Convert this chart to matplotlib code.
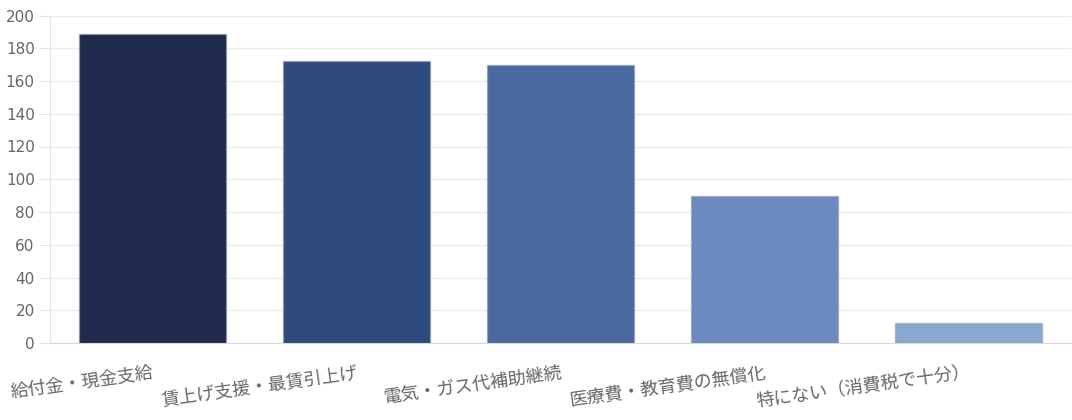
import matplotlib
matplotlib.use("Agg")
import matplotlib.pyplot as plt

plt.rcParams['font.family'] = ['Noto Sans CJK JP', 'DejaVu Sans']

categories = ["給付金・現金支給", "賃上げ支援・最賃引上げ", "電気・ガス代補助継続",
              "医療費・教育費の無償化", "特にない（消費税で十分）"]
values = [189, 172, 170, 90, 12]
colors = ["#1f2a4d", "#2f4b7d", "#4a6a9f", "#6c8abf", "#8aa8cf"]
yticks = [0, 20, 40, 60, 80, 100, 120, 140, 160, 180, 200]

W, H = 1072, 420
fig = plt.figure(figsize=(W / 100, H / 100), dpi=100)
ax = fig.add_axes([50 / W, (H - 343) / H, (1071 - 50) / W, (343 - 15.5) / H])

x = list(range(len(categories)))
ax.bar(x, values, width=0.72, color=colors, edgecolor=(0.55, 0.58, 0.66, 0.5),
       linewidth=1, zorder=3)

ax.set_xlim(-0.5, len(categories) - 0.5)
ax.set_ylim(0, 200)
ax.set_yticks(yticks)
ax.set_yticklabels([str(t) for t in yticks], family=['DejaVu Sans'])
ax.grid(axis='y', color='#ebebeb', linewidth=1, zorder=0)
ax.set_axisbelow(True)

for s in ['top', 'right']:
    ax.spines[s].set_visible(False)
ax.spines['left'].set_color('#e3e3e3')
ax.spines['bottom'].set_color('#d8d8d8')

ax.tick_params(axis='y', length=8, color='#e6e6e6', labelsize=11, labelcolor='#666666', pad=3)
ax.tick_params(axis='x', length=0, pad=15)

ax.set_xticks(x)
ax.set_xticklabels(categories, rotation=8, ha='right', va='top',
                   rotation_mode='anchor', fontsize=13, color='#666666')

fig.savefig("out.png", dpi=100, facecolor='white')
